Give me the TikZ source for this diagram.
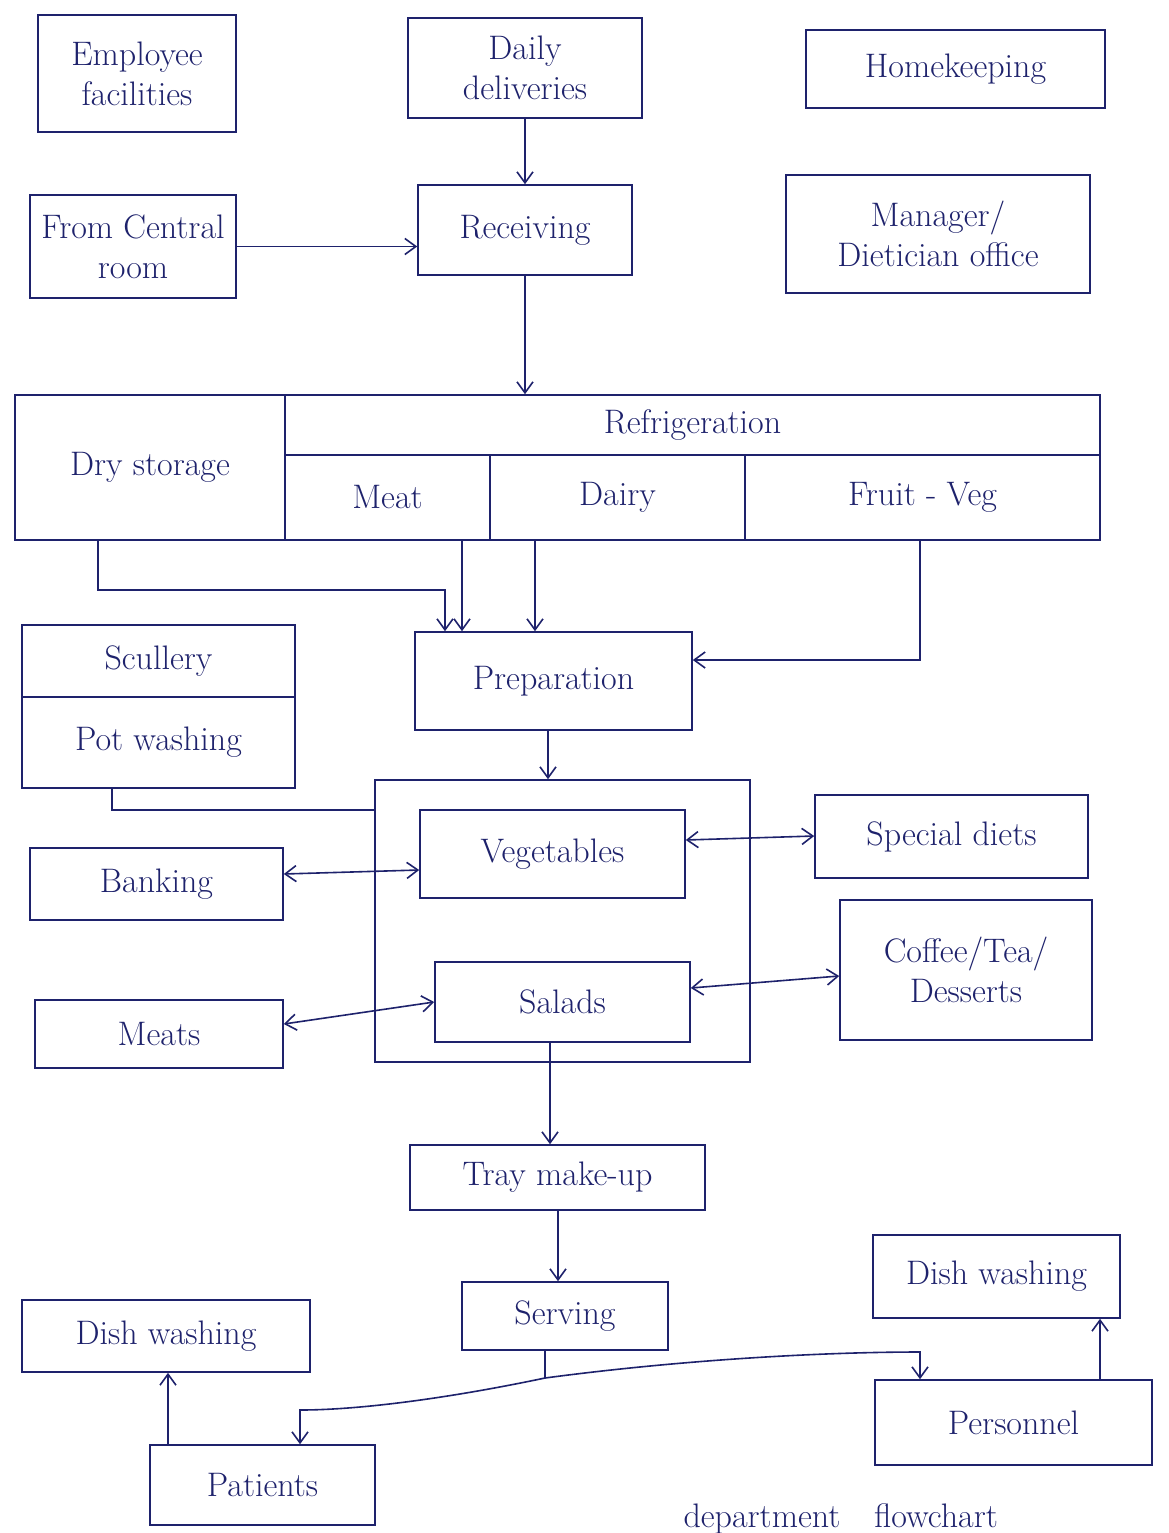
\documentclass[tikz,border=0pt]{standalone}
\usetikzlibrary{arrows.meta}
\definecolor{ink}{RGB}{30,34,108}
\begin{document}
\begin{tikzpicture}[x=1pt,y=-1pt,
  box/.style={draw=ink,line width=1.6pt,rectangle,inner sep=2pt,align=center,
    text=ink,font=\fontsize{34}{40}\selectfont},
  line/.style={draw=ink,line width=1.6pt},
  arr/.style={line,-{Straight Barb[length=11pt,width=16pt]}},
  dbl/.style={line,{Straight Barb[length=11pt,width=16pt]}-{Straight Barb[length=11pt,width=16pt]}}]
\useasboundingbox[fill=white] (0,0) rectangle (1168,1533);
% top row
\node[box,minimum width=198,minimum height=117] (emp) at (137,73.5) {Employee\\facilities};
\node[box,minimum width=234,minimum height=100] (daily) at (525,68) {Daily\\deliveries};
\node[box,minimum width=299,minimum height=78] (home) at (955.5,69) {Homekeeping};
% second row
\node[box,minimum width=206,minimum height=103] (central) at (133,246.5) {From Central\\room};
\node[box,minimum width=214,minimum height=90] (recv) at (525,230) {Receiving};
\node[box,minimum width=304,minimum height=118] (mgr) at (938,234) {Manager/\\Dietician office};
% storage block
\node[box,minimum width=270,minimum height=145] (dry) at (150,467.5) {Dry storage};
\node[box,minimum width=815,minimum height=60] (refrig) at (692.5,425) {Refrigeration};
\node[box,minimum width=205,minimum height=85] (meat) at (387.5,497.5) {Meat};
\node[box,minimum width=255,minimum height=85] (dairy) at (617.5,497.5) {Dairy};
\node[box,minimum width=355,minimum height=85] (fruit) at (922.5,497.5) {Fruit - Veg};
% preparation and scullery
\node[box,minimum width=277,minimum height=98] (prep) at (553.5,681) {Preparation};
\node[box,minimum width=273,minimum height=72] (scul) at (158.5,661) {Scullery};
\node[box,minimum width=273,minimum height=91] (pot) at (158.5,742.5) {Pot washing};
% production area
\node[box,minimum width=375,minimum height=282] (cont) at (562.5,921) {};
\node[box,minimum width=265,minimum height=88] (veg) at (552.5,854) {Vegetables};
\node[box,minimum width=255,minimum height=80] (sal) at (562.5,1002) {Salads};
\node[box,minimum width=253,minimum height=72] (bank) at (156.5,884) {Banking};
\node[box,minimum width=248,minimum height=68] (meats) at (159,1034) {Meats};
\node[box,minimum width=273,minimum height=83] (spec) at (951.5,836.5) {Special diets};
\node[box,minimum width=252,minimum height=140] (coffee) at (966,970) {Coffee/Tea/\\Desserts};
% service
\node[box,minimum width=295,minimum height=65] (tray) at (557.5,1177.5) {Tray make-up};
\node[box,minimum width=206,minimum height=68] (serv) at (565,1316) {Serving};
\node[box,minimum width=288,minimum height=72] (dishL) at (166,1336) {Dish washing};
\node[box,minimum width=247,minimum height=83] (dishR) at (996.5,1276.5) {Dish washing};
\node[box,minimum width=277,minimum height=85] (pers) at (1013.5,1422.5) {Personnel};
\node[box,minimum width=225,minimum height=80] (pat) at (262.5,1485) {Patients};
\node[text=ink,font=\fontsize{34}{40}\selectfont,anchor=base west] (cap) at (680,1527) {department\quad flowchart};
% connectors
\draw[arr] (daily.south) -- (recv.north);
\draw[arr] (central.east) -- (recv.west |- central.east);
\draw[arr] (recv.south) -- (recv.south |- refrig.north);
\draw[arr] (98,0 |- dry.south) |- (445,590) -- (445,0 |- prep.north);
\draw[arr] (462,0 |- meat.south) -- (462,0 |- prep.north);
\draw[arr] (535,0 |- dairy.south) -- (535,0 |- prep.north);
\draw[arr] (920,0 |- fruit.south) |- (prep.east |- 0,660);
\draw[arr] (548,0 |- prep.south) -- (548,0 |- cont.north);
\draw[line] (112,0 |- pot.south) |- (cont.west |- 0,810);
\draw[dbl] (bank.east |- 0,874) -- (veg.west |- 0,870);
\draw[dbl] (meats.east |- 0,1024) -- (sal.west |- 0,1002);
\draw[dbl] (veg.east |- 0,840) -- (spec.west |- 0,836);
\draw[dbl] (sal.east |- 0,988) -- (coffee.west |- 0,976);
\draw[arr] (550,0 |- sal.south) -- (550,0 |- tray.north);
\draw[arr] (558,0 |- tray.south) -- (558,0 |- serv.north);
\coordinate (j) at (545,1378);
\draw[line] (545,0 |- serv.south) -- (j);
\draw[arr] (j) .. controls (680,1360) and (820,1352) .. (920,1352) -- (920,0 |- pers.north);
\draw[arr] (j) .. controls (450,1398) and (360,1410) .. (300,1410) -- (300,0 |- pat.north);
\draw[arr] (168,0 |- pat.north) -- (168,0 |- dishL.south);
\draw[arr] (1100,0 |- pers.north) -- (1100,0 |- dishR.south);
\end{tikzpicture}
\end{document}
